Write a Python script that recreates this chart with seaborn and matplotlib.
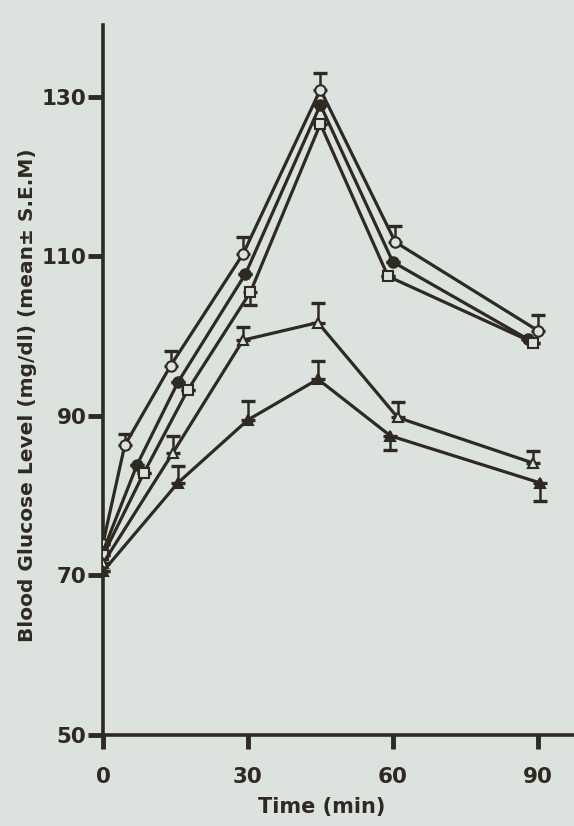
import matplotlib
matplotlib.use("Agg")
import matplotlib.pyplot as plt
import seaborn as sns

# glucose tolerance curves
# (each group has its own time points, the drawing is not perfectly aligned)
tOpenCircle = [0, 4.5, 14, 29, 45, 60.5, 90]
gOpenCircle = [74, 86.3, 96.3, 110.3, 130.9, 111.8, 100.7]
eOpenCircle = [0, 1.4, 1.8, 2.1, 2.1, 2.0, 2.0]

tFilledCircle = [0, 7, 15.5, 29.5, 45, 60, 88]
gFilledCircle = [73, 83.8, 94.2, 107.8, 129.0, 109.3, 99.6]
eFilledCircle = [0, 0, 0, 0, 0, 0, 0]

tOpenSquare = [0, 8.5, 17.5, 30.5, 45, 59, 89]
gOpenSquare = [72.5, 82.9, 93.2, 105.5, 126.6, 107.5, 99.2]
eOpenSquare = [0, 0, 0, -1.6, 0, 0, 0]

tOpenTri = [0, 14.5, 29, 44.5, 61, 89]
gOpenTri = [71.5, 85.4, 99.5, 101.7, 89.8, 84.1]
eOpenTri = [0, 2.1, 1.6, 2.5, 1.9, 1.5]

tFilledTri = [0, 15.5, 30, 44.5, 59.5, 90.5]
gFilledTri = [70.5, 81.6, 89.5, 94.6, 87.5, 81.6]
eFilledTri = [0, 2.1, 2.4, 2.3, -1.8, -2.3]

xTicks = [0, 30, 60, 90]
yTicks = [50, 70, 90, 110, 130]

paper = '#dce3df'
ink = '#2e2a22'

sns.set_style("ticks")
plt.rcParams['font.family'] = ['DejaVu Sans']

fig = plt.figure(figsize=(5.74, 8.26), dpi=100, facecolor=paper)
ax = fig.add_axes([0.1794, 0.1102, 0.8206, 0.8595])
ax.set_facecolor(paper)

series = [
    (tOpenCircle, gOpenCircle, eOpenCircle, 'o', paper),
    (tFilledCircle, gFilledCircle, eFilledCircle, 'o', ink),
    (tOpenSquare, gOpenSquare, eOpenSquare, 's', paper),
    (tOpenTri, gOpenTri, eOpenTri, '^', paper),
    (tFilledTri, gFilledTri, eFilledTri, '^', ink),
]

for t, g, e, m, fc in series:
    # one sided error bars: positive = drawn up, negative = drawn down
    lo = [-v if v < 0 else 0 for v in e]
    hi = [v if v > 0 else 0 for v in e]
    ax.errorbar(t, g, yerr=[lo, hi], fmt='none', ecolor=ink,
                elinewidth=1.8, capsize=5, capthick=2.4, zorder=2)
    sns.lineplot(x=t, y=g, ax=ax, color=ink, lw=2.3, marker=m,
                 markersize=7.5, markerfacecolor=fc, markeredgecolor=ink,
                 markeredgewidth=1.5, zorder=3)

ax.set_xlim(0, 97.5)
ax.set_ylim(50, 139)
ax.set_xticks(xTicks)
ax.set_yticks(yTicks)
sns.despine(ax=ax)
for s in ['left', 'bottom']:
    ax.spines[s].set_linewidth(2.6)
    ax.spines[s].set_color(ink)

ax.tick_params(axis='y', length=11, width=3.5, color=ink, pad=1,
               labelsize=15.5, labelcolor=ink)
ax.tick_params(axis='x', length=10, width=3.5, color=ink, pad=13,
               labelsize=15.5, labelcolor=ink)
for lab in ax.get_xticklabels() + ax.get_yticklabels():
    lab.set_fontweight('bold')

ax.set_xlabel('Time (min)', fontsize=15, fontweight='semibold', color=ink)
ax.xaxis.set_label_coords(0.465, -0.087)
ax.set_ylabel('Blood Glucose Level (mg/dl) (mean\u00b1 S.E.M)',
              fontsize=14.5, fontweight='bold', color=ink)
ax.yaxis.set_label_coords(-0.14, 0.479)

plt.savefig('out.png', dpi=100, facecolor=paper)
plt.close('all')
